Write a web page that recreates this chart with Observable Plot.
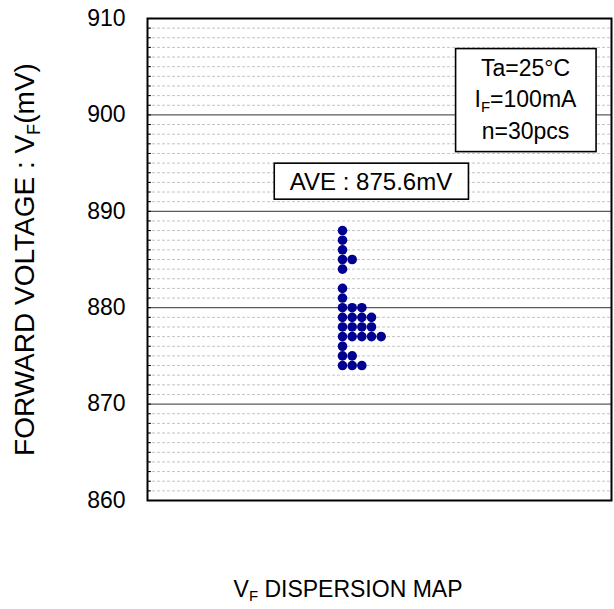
<!DOCTYPE html>
<html><head><meta charset="utf-8">
<script src="https://cdn.jsdelivr.net/npm/d3@7"></script>
<script src="https://cdn.jsdelivr.net/npm/@observablehq/plot@0.6"></script>
<style>body{margin:0;background:#fff;}</style>
</head><body><div id="chart"></div>
<script>
// ---- data ----
const values = [888,887,886,885,885,884,882,881,880,880,880,879,879,879,879,878,878,878,878,877,877,877,877,877,876,875,875,874,874,874];
const yTicks = [860,870,880,890,900,910];
const yDomain = [860,910];
const majorGrid = [870,880,890,900];
const condLines = ["Ta=25°C","I_F=100mA","n=30pcs"];
const aveLabel = "AVE : 875.6mV";
const yLabel = "FORWARD VOLTAGE : V_F(mV)";
const title = "V_F DISPERSION MAP";

// ---- layout ----
const W = 614, H = 609, mL = 147, mR = 3, mT = 18, mB = 109;
const frameW = W - mL - mR;
const colStep = 9.67, firstColPx = 342;
const xa = -(firstColPx - mL) / colStep;
const xDomain = [xa, xa + frameW / colStep];

const seen = new Map();
const points = values.map(v => { const c = seen.get(v) || 0; seen.set(v, c + 1); return {v, col: c}; });
const units = d3.range(yDomain[0] + 1, yDomain[1]);
const minorGrid = units.filter(d => d % 10 !== 0);

const svg = Plot.plot({
  width: W, height: H,
  marginLeft: mL, marginRight: mR, marginTop: mT, marginBottom: mB,
  style: {fontFamily: "'Liberation Sans', Arial, sans-serif", fontSize: "23px", background: "#fff", color: "#000"},
  x: {domain: xDomain, axis: null},
  y: {domain: yDomain, axis: null},
  marks: [
    Plot.ruleY(minorGrid, {stroke: "#c4c4c4", strokeDasharray: "3,2"}),
    Plot.ruleY(majorGrid, {stroke: "#333", strokeWidth: 1}),
    Plot.tickY(units, {y: d => d, insetRight: frameW - 4, stroke: "#000"}),
    Plot.dot(points, {x: "col", y: "v", r: 4.8, fill: "#000090"}),
    Plot.frame({stroke: "#000", strokeWidth: 2}),
    Plot.axisY(yTicks, {tickSize: 0, tickPadding: 22, fontSize: 23, label: null, fill: "#000"}),
    Plot.text([yLabel], {frameAnchor: "left", dx: 25 - mL, rotate: -90, fontSize: 28, textAnchor: "middle", lineAnchor: "middle", fill: "#000"}),
    Plot.text([title], {frameAnchor: "bottom", dx: 347.5 - (mL + frameW / 2), dy: 89, fontSize: 23, textAnchor: "middle", lineAnchor: "middle", fill: "#000"}),
    Plot.text([aveLabel], {frameAnchor: "top-left", dx: 223.5, dy: 164, fontSize: 24, textAnchor: "middle", lineAnchor: "middle", fill: "#000", className: "avebox"}),
    Plot.text([condLines.join("\n")], {frameAnchor: "top-right", dx: -86, dy: 78.5, fontSize: 23, lineHeight: 1.37, textAnchor: "middle", lineAnchor: "middle", fill: "#000", className: "condbox"})
  ]
});
document.getElementById("chart").appendChild(svg);

// subscripts: "_X" -> subscript X
const ns = "http://www.w3.org/2000/svg";
const textNodes = [];
svg.querySelectorAll("text, tspan").forEach(el => el.childNodes.forEach(n => { if (n.nodeType === 3 && n.nodeValue.includes("_")) textNodes.push(n); }));
textNodes.forEach(tn => {
  const s = tn.nodeValue, i = s.indexOf("_"), parent = tn.parentNode;
  const before = document.createTextNode(s.slice(0, i));
  const sub = document.createElementNS(ns, "tspan");
  sub.setAttribute("font-size", "65%"); sub.setAttribute("dy", "0.3em"); sub.textContent = s[i + 1];
  const after = document.createElementNS(ns, "tspan");
  after.setAttribute("dy", "-0.195em"); after.textContent = s.slice(i + 2);
  parent.replaceChild(after, tn); parent.insertBefore(sub, after); parent.insertBefore(before, sub);
});

// boxes around annotation texts
function boxAround(sel, pl, pr, pt, pb) {
  const t = svg.querySelector(sel + " text");
  if (!t) return;
  const b = t.getBBox();
  const r = document.createElementNS(ns, "rect");
  r.setAttribute("x", b.x - pl); r.setAttribute("y", b.y - pt);
  r.setAttribute("width", b.width + pl + pr); r.setAttribute("height", b.height + pt + pb);
  r.setAttribute("fill", "#fff"); r.setAttribute("stroke", "#000"); r.setAttribute("stroke-width", 1.6);
  if (t.getAttribute("transform")) r.setAttribute("transform", t.getAttribute("transform"));
  t.parentNode.insertBefore(r, t);
}
boxAround(".condbox", 19, 19, 6, 8);
boxAround(".avebox", 15.6, 16.3, 5, 4);
</script>
</body></html>
